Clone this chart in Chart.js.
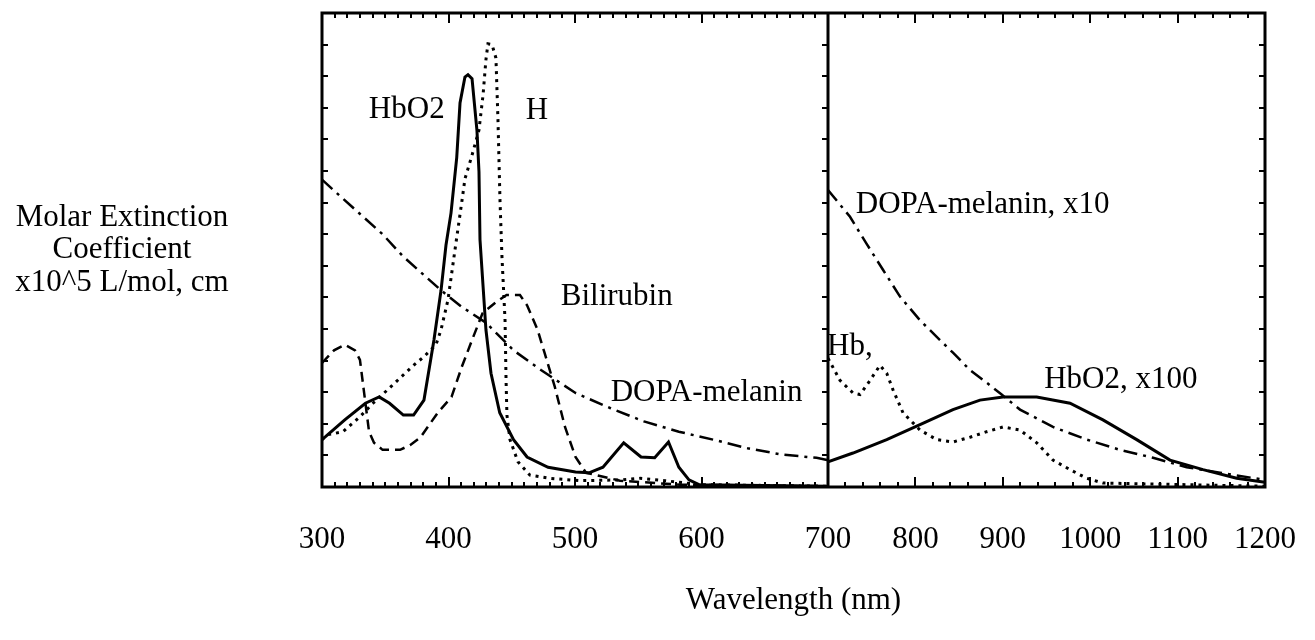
<!DOCTYPE html>
<html>
<head>
<meta charset="utf-8">
<title>Molar extinction spectra</title>
<script src="https://cdn.jsdelivr.net/npm/chart.js@4.4.1/dist/chart.umd.min.js"></script>
<style>
  html, body { margin: 0; padding: 0; background: #fff; }
</style>
</head>
<body>
<canvas id="spectraChart" width="1315" height="640"></canvas>
<script>
// 300 - 700 nm panel
var hbo2Wl = [300, 303, 318, 334.3, 345.2, 353.4, 364.3, 372.4, 380.6, 388.5, 394.1, 398, 402, 406.5, 409.1, 413, 415.4, 418.6, 422.5, 424.1, 424.9, 429.6, 433.6, 440.5, 451.4, 462.1, 478.7, 500.4, 511.1, 522.1, 538.5, 552.2, 563, 573.9, 582.1, 590.1, 598, 700];
var hbo2Val = [0.60, 0.64, 0.85, 1.06, 1.14, 1.06, 0.91, 0.91, 1.10, 1.86, 2.49, 3.06, 3.47, 4.17, 4.86, 5.19, 5.22, 5.17, 4.51, 3.99, 3.13, 1.99, 1.44, 0.94, 0.60, 0.38, 0.25, 0.19, 0.18, 0.25, 0.56, 0.38, 0.37, 0.57, 0.25, 0.09, 0.03, 0.01];

var hbWl = [300, 304, 316.6, 330, 340.3, 354.5, 361.7, 372.4, 380.6, 390.1, 394.1, 399.6, 405.1, 410.7, 413, 418.6, 424.1, 427.3, 429.6, 431.2, 434.4, 437.5, 439.1, 440.7, 442.3, 444.7, 445.5, 446.2, 448.6, 454.9, 464.4, 480.2, 503.9, 535.6, 551.4, 571.1, 598.8, 700];
var hbVal = [0.60, 0.66, 0.70, 0.89, 1.06, 1.27, 1.38, 1.54, 1.65, 1.80, 1.99, 2.37, 3.00, 3.63, 3.90, 4.20, 4.52, 4.96, 5.41, 5.61, 5.60, 5.43, 4.65, 3.63, 2.90, 2.11, 1.35, 0.91, 0.60, 0.32, 0.15, 0.11, 0.08, 0.09, 0.11, 0.08, 0.03, 0.01];

var biliWl = [300, 309.5, 318, 326.1, 330, 333, 337.2, 341.1, 347.9, 361.7, 369.6, 377.9, 391.5, 402.4, 410.5, 418.6, 426.9, 437.5, 445.9, 456.5, 462.1, 470.4, 475.9, 484, 492.1, 500.4, 508.7, 535.6, 583, 700];
var biliVal = [1.57, 1.73, 1.80, 1.73, 1.61, 1.23, 0.70, 0.56, 0.47, 0.47, 0.53, 0.63, 0.94, 1.14, 1.52, 1.86, 2.20, 2.34, 2.43, 2.43, 2.30, 1.99, 1.70, 1.27, 0.76, 0.38, 0.18, 0.08, 0.03, 0.01];

var dopaWl = [300, 323.5, 347.9, 364, 394.1, 410.5, 429.6, 451.4, 473.1, 500.4, 527.7, 554.5, 582.1, 609.1, 636.5, 663.6, 691, 700];
var dopaVal = [3.89, 3.55, 3.20, 2.92, 2.49, 2.28, 2.08, 1.73, 1.48, 1.19, 1.00, 0.83, 0.70, 0.60, 0.49, 0.41, 0.37, 0.34];

// 700 - 1200 nm panel (scaled curves)
var dopa10Wl = [700, 725.2, 743.5, 762.9, 782.4, 805.3, 824.4, 843, 862.5, 881.6, 898.7, 919.7, 957.4, 996, 1034.1, 1071.9, 1110.4, 1148.5, 1200];
var dopa10Val = [3.76, 3.42, 3.09, 2.75, 2.41, 2.11, 1.90, 1.70, 1.48, 1.32, 1.17, 0.98, 0.76, 0.60, 0.47, 0.37, 0.25, 0.18, 0.09];

var hbo2x100Wl = [700, 728.6, 767.2, 805.3, 843, 873.9, 900.2, 938.8, 976.9, 1014.6, 1053.2, 1091.3, 1129.1, 1167.6, 1200];
var hbo2x100Val = [0.32, 0.43, 0.60, 0.79, 0.98, 1.10, 1.14, 1.14, 1.06, 0.85, 0.60, 0.34, 0.22, 0.11, 0.06];

var hbNirWl = [700, 713.7, 728.6, 736.6, 748.1, 759.5, 767.2, 774.4, 785.8, 805.3, 824.4, 843, 862.5, 881.6, 900.2, 919.7, 938.8, 957.4, 976.9, 996, 1014.6, 1200];
var hbNirVal = [1.63, 1.35, 1.19, 1.17, 1.35, 1.54, 1.44, 1.23, 0.94, 0.72, 0.60, 0.57, 0.63, 0.70, 0.76, 0.72, 0.56, 0.34, 0.22, 0.11, 0.05, 0.01];

// axis ranges and tick labels
var leftRange = [300, 700];
var rightRange = [700, 1200];
var yRange = [0, 6];
var yTitleLines = ['Molar Extinction', 'Coefficient', 'x10^5 L/mol, cm'];

// curve labels (wavelength, value)
var notes = [
    { text: 'HbO2', axis: 'x1', x: 367, y: 4.77 },
    { text: 'H', axis: 'x1', x: 470, y: 4.76 },
    { text: 'Bilirubin', axis: 'x1', x: 533, y: 2.41 },
    { text: 'DOPA-melanin', axis: 'x1', x: 604, y: 1.19 },
    { text: 'DOPA-melanin, x10', axis: 'x2', x: 877, y: 3.57 },
    { text: 'Hb,', axis: 'x2', x: 725, y: 1.77 },
    { text: 'HbO2, x100', axis: 'x2', x: 1035, y: 1.35 }
];

var serif = "'Liberation Serif', 'Times New Roman', serif";

function pts(xs, ys) {
    return xs.map(function (x, i) { return { x: x, y: ys[i] }; });
}

function series(label, xs, ys, axis, dash, width) {
    return {
        label: label,
        data: pts(xs, ys),
        xAxisID: axis,
        yAxisID: 'y',
        borderColor: '#000',
        borderWidth: width,
        borderDash: dash,
        borderCapStyle: 'butt',
        pointRadius: 0,
        fill: false,
        tension: 0
    };
}

// frame, divider and inner tick marks
var frameTicks = {
    id: 'frameTicks',
    afterDraw: function (chart) {
        var ctx = chart.ctx, a = chart.chartArea;
        var x1 = chart.scales.x1, x2 = chart.scales.x2, y = chart.scales.y;
        var divX = x1.right;
        ctx.save();
        ctx.strokeStyle = '#000';
        ctx.lineWidth = 2;
        ctx.beginPath();
        [[x1, 10], [x2, 20]].forEach(function (p) {
            var s = p[0], step = p[1];
            var n = Math.round((s.max - s.min) / step);
            for (var i = 1; i < n; i++) {
                var v = s.min + i * step;
                var px = Math.round(s.getPixelForValue(v));
                var len = (v % 100 === 0) ? 10 : 5;
                ctx.moveTo(px, a.top); ctx.lineTo(px, a.top + len);
                ctx.moveTo(px, a.bottom); ctx.lineTo(px, a.bottom - len);
            }
        });
        var ny = Math.round((y.max - y.min) / 0.4);
        for (var j = 1; j < ny; j++) {
            var py = Math.round(y.getPixelForValue(y.min + j * 0.4));
            ctx.moveTo(a.left, py); ctx.lineTo(a.left + 6, py);
            ctx.moveTo(divX, py); ctx.lineTo(divX - 6, py);
            ctx.moveTo(a.right, py); ctx.lineTo(a.right - 6, py);
        }
        ctx.stroke();
        ctx.lineWidth = 3;
        ctx.strokeRect(a.left, a.top, a.width, a.height);
        ctx.beginPath();
        ctx.moveTo(divX, a.top); ctx.lineTo(divX, a.bottom);
        ctx.stroke();
        ctx.restore();
    }
};

// curve labels and the horizontal y title
var textLayer = {
    id: 'textLayer',
    afterDraw: function (chart) {
        var ctx = chart.ctx, a = chart.chartArea, y = chart.scales.y;
        ctx.save();
        ctx.fillStyle = '#000';
        ctx.font = '31px ' + serif;
        ctx.textAlign = 'center';
        ctx.textBaseline = 'middle';
        notes.forEach(function (n) {
            ctx.fillText(n.text, chart.scales[n.axis].getPixelForValue(n.x), y.getPixelForValue(n.y));
        });
        var midY = (a.top + a.bottom) / 2;
        yTitleLines.forEach(function (t, i) {
            ctx.fillText(t, a.left - 200, midY + (i - 1) * 32.5);
        });
        ctx.restore();
    }
};

// fixed height for the wavelength axes, no overhang padding
function fitAxis(axis) {
    axis.paddingLeft = 0;
    axis.paddingRight = 0;
    axis.height = 72;
}

var tickFont = { family: serif, size: 31 };

var ctx = document.getElementById('spectraChart').getContext('2d');
var spectraChart = new Chart(ctx, {
    type: 'line',
    data: {
        datasets: [
            series('HbO2', hbo2Wl, hbo2Val, 'x1', [], 3),
            series('H', hbWl, hbVal, 'x1', [3, 5], 3),
            series('Bilirubin', biliWl, biliVal, 'x1', [10, 6], 2.5),
            series('DOPA-melanin', dopaWl, dopaVal, 'x1', [14, 6, 3, 6], 2.5),
            series('DOPA-melanin, x10', dopa10Wl, dopa10Val, 'x2', [14, 6, 3, 6], 2.5),
            series('HbO2, x100', hbo2x100Wl, hbo2x100Val, 'x2', [], 3),
            series('Hb', hbNirWl, hbNirVal, 'x2', [3, 5], 3)
        ]
    },
    options: {
        responsive: false,
        animation: false,
        devicePixelRatio: 1,
        layout: { padding: { left: 322, right: 50, top: 13, bottom: 21 } },
        plugins: {
            legend: { display: false },
            tooltip: { enabled: false },
            title: {
                display: true,
                text: 'Wavelength (nm)',
                position: 'bottom',
                fullSize: false,
                color: '#000',
                font: { family: serif, size: 31, weight: 'normal' },
                padding: { top: 22.8, bottom: 0 }
            }
        },
        scales: {
            x1: {
                type: 'linear',
                position: 'bottom',
                stack: 'wave',
                stackWeight: 506,
                min: leftRange[0],
                max: leftRange[1],
                grid: { display: false, drawTicks: false },
                border: { display: false },
                afterFit: fitAxis,
                ticks: { stepSize: 100, padding: 34.4, color: '#000', font: tickFont, maxRotation: 0, autoSkip: false }
            },
            x2: {
                type: 'linear',
                position: 'bottom',
                stack: 'wave',
                stackWeight: 437,
                min: rightRange[0],
                max: rightRange[1],
                grid: { display: false, drawTicks: false },
                border: { display: false },
                afterFit: fitAxis,
                ticks: {
                    stepSize: 100, padding: 34.4, color: '#000', font: tickFont, maxRotation: 0, autoSkip: false,
                    callback: function (v) { return v === rightRange[0] ? '' : String(v); }
                }
            },
            y: {
                type: 'linear',
                display: false,
                min: yRange[0],
                max: yRange[1]
            }
        }
    },
    plugins: [frameTicks, textLayer]
});
</script>
</body>
</html>
